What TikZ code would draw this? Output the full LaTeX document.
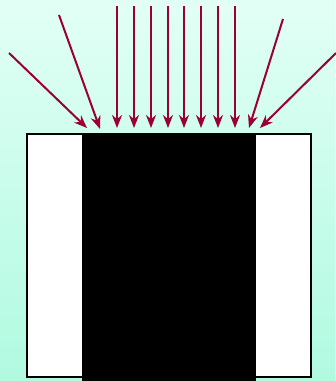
\documentclass[tikz,border=0pt]{standalone}
\usepackage{tikz}
\usetikzlibrary{arrows.meta}

\definecolor{raycol}{RGB}{153,0,51}
\definecolor{bgtop}{RGB}{226,255,246}
\definecolor{bgbot}{RGB}{176,250,224}

\begin{document}
\begin{tikzpicture}[x=0.02cm,y=-0.02cm]
\shade[top color=bgtop,bottom color=bgbot] (0,0) rectangle (335,381);
\useasboundingbox (0,0) rectangle (335,381);
\draw[fill=white,line width=0.04cm] (27,134) rectangle (311,377);
\fill[black] (82,133) rectangle (256,381);

\tikzset{ray/.style={draw=raycol,line width=0.04cm,-{Stealth[length=0.26cm,width=0.2cm]}}}
\foreach \x in {117,134,151,168,184,201,218,235}
  \draw[ray] (\x,6) -- (\x,128);
\coordinate (l1) at (9,53);
\coordinate (l1e) at (87,128);
\coordinate (l2) at (59,15);
\coordinate (l2e) at (100,129);
\coordinate (r2) at (283,19);
\coordinate (r2e) at (249,128);
\coordinate (r1) at (336,53);
\coordinate (r1e) at (260,128);
\draw[ray] (l1) -- (l1e);
\draw[ray] (l2) -- (l2e);
\draw[ray] (r2) -- (r2e);
\draw[ray] (r1) -- (r1e);

\end{tikzpicture}
\end{document}
